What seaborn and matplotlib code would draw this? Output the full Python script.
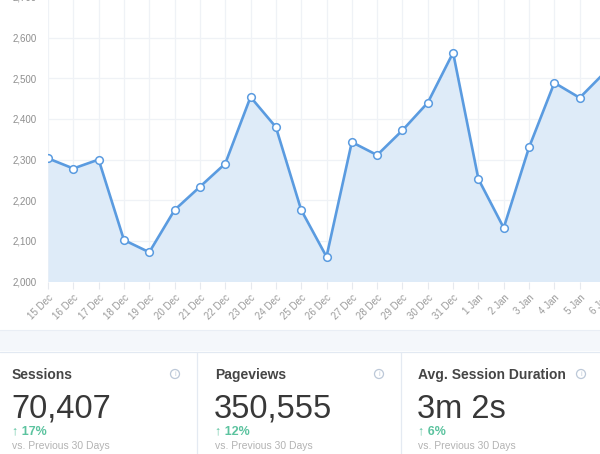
import matplotlib
matplotlib.use("Agg")
import matplotlib.pyplot as plt
import seaborn as sns
import pandas as pd
from matplotlib.patches import Rectangle, Ellipse
from matplotlib.lines import Line2D

# Daily values
dates = ["15 Dec", "16 Dec", "17 Dec", "18 Dec", "19 Dec", "20 Dec", "21 Dec",
         "22 Dec", "23 Dec", "24 Dec", "25 Dec", "26 Dec", "27 Dec", "28 Dec",
         "29 Dec", "30 Dec", "31 Dec", "1 Jan", "2 Jan", "3 Jan", "4 Jan",
         "5 Jan", "6 Jan"]
sessions = [2303, 2278, 2300, 2102, 2072, 2176, 2233, 2290, 2454, 2380, 2176,
            2061, 2343, 2311, 2372, 2440, 2563, 2252, 2132, 2330, 2489, 2452, 2515]
y_ticks = [2000, 2100, 2200, 2300, 2400, 2500, 2600, 2700]

# Summary cards under the chart
card_titles = ["Sessions", "Pageviews", "Avg. Session Duration"]
card_values = ["70,407", "350,555", "3m 2s"]
card_changes = ["17%", "12%", "6%"]
card_note = "vs. Previous 30 Days"

sns.set_style("white")
plt.rcParams["font.family"] = ["Liberation Sans", "DejaVu Sans"]

line_color = "#5a9be0"
fill_color = "#deebf8"
grid_color = "#eff2f6"

W, H = 600, 454
fig = plt.figure(figsize=(W / 100, H / 100), dpi=100)
fig.patch.set_facecolor("white")

# chart is cropped at top and right in the reference
ax = fig.add_axes([48 / W, (H - 281.5) / H, 557 / W, 284.5 / H])

df = pd.DataFrame({"idx": range(len(dates)), "sessions": sessions})
ax.fill_between(df["idx"], df["sessions"], 2000, color=fill_color, lw=0, zorder=1)
sns.lineplot(data=df, x="idx", y="sessions", ax=ax, color=line_color,
             linewidth=1.9, marker="o", markersize=5.5,
             markerfacecolor="white", markeredgecolor=line_color,
             markeredgewidth=1.1, zorder=3)

ax.set_xlim(0, len(dates) - 1)
ax.set_ylim(2000, 2700)
ax.set_xticks(range(len(dates)))
ax.set_xticklabels(dates, rotation=45, ha="right", rotation_mode="anchor")
ax.set_yticks(y_ticks)
ax.set_yticklabels([f"{v:,}" for v in y_ticks])
ax.set_xlabel("")
ax.set_ylabel("")
ax.grid(True, color=grid_color, linewidth=0.9, zorder=0)
ax.set_axisbelow(True)
for s in ax.spines.values():
    s.set_visible(False)
ax.tick_params(axis="y", length=0, pad=8, labelsize=7, labelcolor="#8e8e8e")
ax.tick_params(axis="x", length=5, width=0.8, color="#e6e9ee", pad=3,
               labelsize=7, labelcolor="#9a9a9a", bottom=True)


def fy(px):
    return 1 - px / H


# light band between chart and cards
fig.add_artist(Rectangle((0, fy(351)), 1, 21 / H, transform=fig.transFigure,
                         facecolor="#f4f7fb", edgecolor="none"))
fig.add_artist(Line2D([0, 1], [fy(330), fy(330)], color="#e9eef5", lw=0.8))
fig.add_artist(Line2D([0, 1], [fy(351.5), fy(351.5)], color="#e2e9f2", lw=0.9))
for sx in [197, 401]:
    fig.add_artist(Line2D([sx / W, sx / W], [fy(352), 0], color="#e4eaf2", lw=0.9))

card_x = [12, 215, 418]
icon_x = [175, 379, 581]
for i in range(3):
    x0 = card_x[i] / W
    fig.text(x0, fy(379), card_titles[i], fontsize=10, fontweight="bold",
             color="#454545", va="baseline")
    fig.text(x0 - 1 / W, fy(418), card_values[i], fontsize=23.5,
             color="#383838", va="baseline")
    fig.text(x0, fy(431), "\u2191 " + card_changes[i], fontsize=9,
             color="#5cc39f", va="center", fontweight="bold")
    fig.text(x0, fy(446), card_note, fontsize=7.5, color="#b3b3b3", va="center")
    fig.add_artist(Ellipse((icon_x[i] / W, fy(374)), 9 / W, 9 / H,
                           transform=fig.transFigure, facecolor="none",
                           edgecolor="#bcc8d8", lw=0.9))
    fig.text(icon_x[i] / W, fy(374), "i", fontsize=5, color="#bcc8d8",
             ha="center", va="center")

fig.savefig("out.png", dpi=100)
